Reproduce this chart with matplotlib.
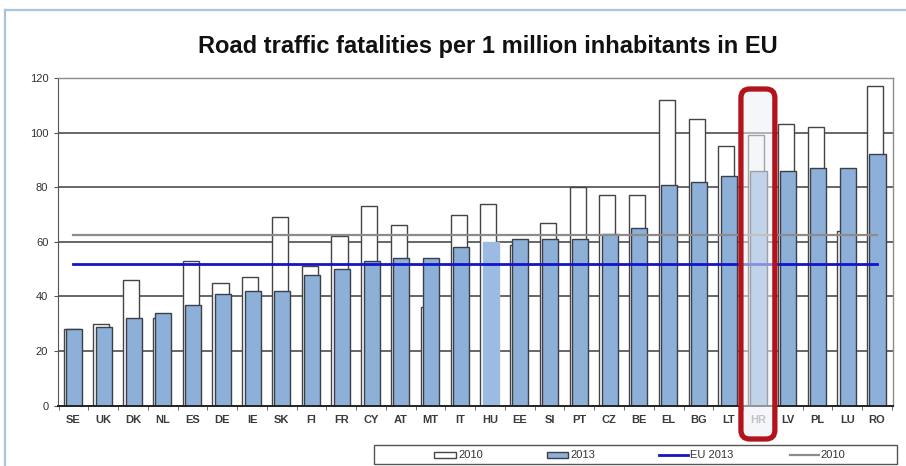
import matplotlib
matplotlib.use("Agg")
import matplotlib.pyplot as plt
from matplotlib.patches import FancyBboxPatch, Rectangle
from matplotlib.lines import Line2D
import numpy as np

plt.rcParams['font.family'] = ['Liberation Sans', 'DejaVu Sans']

countries = ["SE", "UK", "DK", "NL", "ES", "DE", "IE", "SK", "FI", "FR", "CY", "AT", "MT",
             "IT", "HU", "EE", "SI", "PT", "CZ", "BE", "EL", "BG", "LT", "HR", "LV", "PL", "LU", "RO"]
val_2010 = [28, 30, 46, 32, 53, 45, 47, 69, 51, 62, 73, 66, 36,
            70, 74, 59, 67, 80, 77, 77, 112, 105, 95, 99, 103, 102, 64, 117]
val_2013 = [28, 29, 32, 34, 37, 41, 42, 42, 48, 50, 53, 54, 54,
            58, 60, 61, 61, 61, 63, 65, 81, 82, 84, 86, 86, 87, 87, 92]
eu_2013 = 52
eu_2010 = 62.5
highlight = "HR"
yticks = [0, 20, 40, 60, 80, 100, 120]
title = "Road traffic fatalities per 1 million inhabitants in EU"
legend_labels = ["2010", "2013", "EU 2013", "2010"]

W, H = 906, 466
fig = plt.figure(figsize=(W / 100, H / 100), dpi=100)
ax = fig.add_axes([58 / W, 1 - 405.7 / H, (893 - 58) / W, (405.7 - 78) / H])

x = np.arange(len(countries))
bw = 0.54
grid_c = "#4d4d4d"
blue = "#8db0d9"
blue_edge = "#3a3f48"
c_eu13 = "#1414c8"
c_eu10 = "#8c8c8c"

blue_c = ["#9bbbe2" if c == "HU" else blue for c in countries]
blue_e = ["#9bbbe2" if c == "HU" else blue_edge for c in countries]

ax.bar(x - 0.06, val_2010, width=bw, color="white", edgecolor="#444444", linewidth=1.0, zorder=2)
ax.bar(x + 0.02, val_2013, width=bw, color=blue_c, edgecolor=blue_e, linewidth=1.0, zorder=3)

for yv in yticks[1:]:
    ax.axhline(yv, color=grid_c, lw=1.2, zorder=1)

ax.plot([x[0], x[-1]], [eu_2010, eu_2010], color=c_eu10, lw=1.6, zorder=4)
ax.plot([x[0], x[-1]], [eu_2013, eu_2013], color=c_eu13, lw=2.0, zorder=5)

ax.set_xlim(-0.52, len(countries) - 0.46)
ax.set_ylim(0, 120)
ax.set_yticks(yticks)
ax.set_yticklabels([str(v) for v in yticks], fontsize=8, color="#333333")
ax.set_xticks(x)
ax.set_xticklabels(countries, fontsize=8, fontweight="bold", color="#3a3a3a")
for lab in ax.get_xticklabels():
    if lab.get_text() == highlight:
        lab.set_color("#8a8a8a")
ax.tick_params(axis="x", length=0, pad=7)
ax.set_xticks(np.arange(-0.5, len(countries), 1.0), minor=True)
ax.tick_params(axis="x", which="minor", length=3, color="#555555", direction="out")
ax.tick_params(axis="y", length=3, color="#555555", pad=4)

for s in ["top", "right"]:
    ax.spines[s].set_color("#8c8c8c")
    ax.spines[s].set_linewidth(1.0)
ax.spines["left"].set_color("#555555")
ax.spines["bottom"].set_color("#222222")
ax.spines["bottom"].set_linewidth(1.4)
ax.spines["bottom"].set_zorder(6)

# highlight box around HR
hi = countries.index(highlight)
ppx = (893 - 58) / (ax.get_xlim()[1] - ax.get_xlim()[0])
ppy = (405.7 - 78) / 120.0
ybot = -(439 - 405.7) / ppy
ytop = (405.7 - 89) / ppy
box = FancyBboxPatch((hi - 0.57, ybot), 1.14, ytop - ybot,
                     boxstyle="round,pad=0,rounding_size=0.3",
                     mutation_aspect=ppx / ppy,
                     facecolor=(0.93, 0.94, 0.96, 0.55), edgecolor="#b2141b",
                     linewidth=3.8, zorder=10, clip_on=False)
ax.add_patch(box)

fig.text(488 / W, 1 - 53 / H, title, ha="center", va="baseline",
         fontsize=17, fontweight="bold", color="#111111")

# frame lines of the original slide
fig.add_artist(Line2D([5 / W, 5 / W], [0, 1 - 10 / H], color="#a9c3db", lw=1.6))
fig.add_artist(Line2D([5 / W, 1], [1 - 10 / H, 1 - 10 / H], color="#a9c3db", lw=1.6))

# legend (drawn in figure pixel positions)
def fx(px):
    return px / W

def fy(py):
    return 1 - py / H

fig.add_artist(Rectangle((fx(374), fy(464)), (897 - 374) / W, 19 / H, transform=fig.transFigure,
                         facecolor="white", edgecolor="#555555", lw=1.0))
ly = 455
fig.add_artist(Rectangle((fx(434), fy(ly + 3)), 22 / W, 6 / H, transform=fig.transFigure,
                         facecolor="white", edgecolor="#444444", lw=1.0))
fig.add_artist(Rectangle((fx(547), fy(ly + 3)), 21 / W, 6 / H, transform=fig.transFigure,
                         facecolor=blue, edgecolor=blue_edge, lw=1.0))
fig.add_artist(Line2D([fx(659), fx(688)], [fy(ly), fy(ly)], color=c_eu13, lw=2.0))
fig.add_artist(Line2D([fx(790), fx(819)], [fy(ly), fy(ly)], color=c_eu10, lw=1.6))
for px, lab in zip([458, 570, 690, 820], legend_labels):
    fig.text(fx(px), fy(ly), lab, ha="left", va="center", fontsize=8, color="#333333")

fig.savefig("out.png", dpi=100)
